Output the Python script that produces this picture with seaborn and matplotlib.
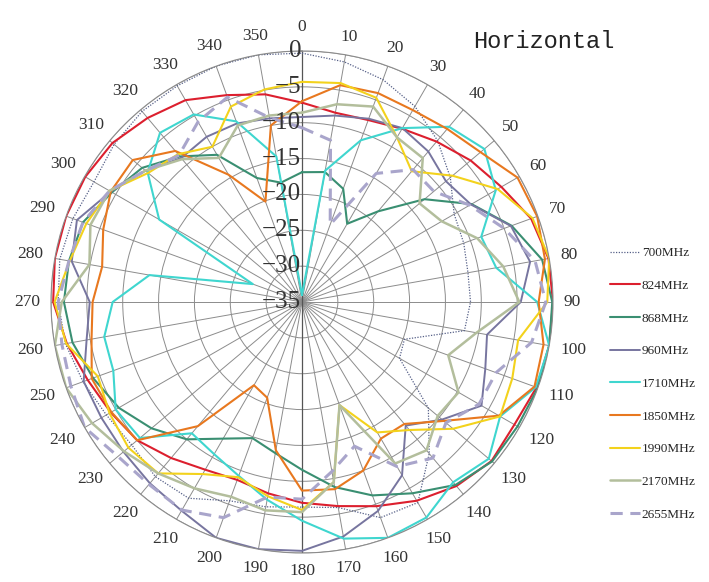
import numpy as np
import pandas as pd
import matplotlib
matplotlib.use("Agg")
import matplotlib.pyplot as plt
import seaborn as sns

# angles in degrees, gains in dB
angles = list(range(0, 360, 10))

g700 = [-0.3, -1.0, -2.0, -3.5, -5.6, -8.0, -10.5, -11.0, -11.5, -11.5,
        -12.0, -19.8, -19.3, -12.0, -7.4, -2.7, -3.0, -5.9, -6.4, -6.0,
        -5.5, -3.4, -3.2, -4.0, -3.5, -2.5, -1.5, -1.0, -0.7, -1.0,
        -1.5, -0.8, -0.3, -0.2, 0.0, 0.0]
g824 = [-7.2, -8.2, -8.0, -7.1, -5.8, -4.3, -2.9, -1.0, -0.1, 0.0,
        0.0, -0.2, -0.8, -0.5, -1.5, -3.0, -4.7, -6.1, -7.0, -7.9,
        -8.6, -8.0, -6.6, -5.0, -4.2, -3.2, -1.7, -0.3, 0.0, 0.0,
        -0.1, -0.5, -1.5, -2.5, -4.3, -5.6]
g868 = [-16.9, -16.6, -18.2, -22.4, -18.5, -12.7, -7.7, -3.9, -1.0, -0.1,
        0.0, 0.0, -0.3, -0.4, -1.7, -4.2, -6.3, -8.8, -11.6, -13.6,
        -14.8, -13.0, -10.0, -7.6, -5.5, -4.0, -2.5, -1.8, -2.0, -2.5,
        -4.4, -5.9, -8.5, -11.3, -16.6, -18.1]
g960 = [-9.2, -8.6, -7.8, -7.0, -7.6, -8.8, -7.8, -4.0, -2.7, -4.5,
        -8.8, -7.8, -6.1, -9.5, -12.5, -7.1, -4.0, -1.8, -0.3, 0.0,
        0.0, -1.4, -2.0, -2.5, -2.7, -2.6, -4.5, -5.4, -2.4, -1.6,
        -4.2, -6.5, -8.8, -8.4, -8.5, -9.0]
g1710 = [-34.0, -16.4, -11.0, -7.0, -3.1, -1.8, -3.8, -8.4, -7.5, -2.2,
         0.0, -0.3, -3.1, -1.0, -2.2, -0.3, 0.0, -1.5, -4.5, -7.0,
         -9.2, -10.5, -11.1, -5.5, -5.0, -7.0, -7.0, -8.6, -13.4, -27.7,
         -12.0, -6.9, -4.2, -4.8, -8.2, -14.4]
g1850 = [-7.0, -4.3, -4.0, -4.1, -3.5, -2.5, -0.3, -0.1, -0.6, -2.0,
         -0.8, -0.5, -3.3, -9.2, -12.8, -13.0, -10.0, -8.5, -8.7, -14.0,
         -20.8, -21.6, -12.4, -5.0, -4.3, -3.8, -5.2, -5.8, -6.7, -5.5,
         -4.2, -4.2, -7.5, -14.5, -20.1, -10.0]
g1990 = [-4.3, -4.0, -4.7, -8.5, -11.2, -7.6, -3.5, -0.8, 0.0, -0.8,
         -4.4, -3.8, -3.1, -7.5, -11.7, -14.0, -19.7, -9.5, -6.0, -7.5,
         -9.0, -7.3, -3.8, -3.4, -4.0, -4.7, -1.6, -0.5, -2.1, -3.0,
         -4.0, -7.0, -8.1, -10.0, -6.0, -4.9]
g2170 = [-8.6, -7.0, -6.0, -8.5, -8.8, -13.6, -12.5, -9.0, -6.5, -4.7,
         -10.3, -13.3, -9.8, -10.3, -8.0, -9.0, -19.7, -9.5, -5.7, -5.5,
         -6.1, -5.0, -3.8, -2.6, -1.2, 0.0, 0.0, -1.5, -4.9, -3.6,
         -4.0, -6.5, -9.0, -11.8, -8.8, -8.6]
g2655 = [-10.7, -12.1, -23.5, -14.3, -10.9, -11.0, -8.0, -5.0, -2.0, -1.0,
         -2.5, -6.2, -6.5, -8.8, -6.6, -8.5, -13.6, -11.0, -7.5, -7.4,
         -3.0, -1.5, -1.8, -1.5, 0.0, -0.7, -1.0, -1.0, -2.0, -2.5,
         -4.0, -6.5, -8.3, -6.0, -4.6, -8.9]

freqs = ["700MHz", "824MHz", "868MHz", "960MHz", "1710MHz",
         "1850MHz", "1990MHz", "2170MHz", "2655MHz"]
gains = [g700, g824, g868, g960, g1710, g1850, g1990, g2170, g2655]

colors = ["#566088", "#dc1f2e", "#3a8f72", "#77759f", "#3fd6cf",
          "#e8781f", "#f3d21c", "#b3be9c", "#a9a5cb"]
styles = [(0, (1, 1.2)), "-", "-", "-", "-", "-", "-", "-", (0, (4, 2.5))]
widths = [0.9, 1.5, 1.5, 1.4, 1.5, 1.5, 1.5, 1.8, 2.2]

rows = []
for f, g in zip(freqs, gains):
    for a, v in zip(angles + [360], g + [g[0]]):
        rows.append({"freq": f, "theta": np.deg2rad(a), "gain": v})
df = pd.DataFrame(rows)

sns.set_style("white")
plt.rcParams["font.family"] = ["Liberation Serif", "DejaVu Serif"]

fig = plt.figure(figsize=(7.09, 5.82), dpi=100)
ax = fig.add_axes([51 / 709, 29 / 582, 502 / 709, 502 / 582], projection="polar")
ax.set_theta_zero_location("N")
ax.set_theta_direction(-1)

for f, c, ls, lw in zip(freqs, colors, styles, widths):
    sns.lineplot(data=df[df["freq"] == f], x="theta", y="gain", color=c,
                 linestyle=ls, linewidth=lw, sort=False, estimator=None,
                 ax=ax, label=f)

ax.set_ylim(-35, 0)
ax.set_yticks(range(-35, 1, 5))
ax.set_yticklabels([])
ax.set_xticks(np.deg2rad(angles))
ax.set_xticklabels([])
ax.set_xlabel("")
ax.set_ylabel("")
ax.grid(True, color="#8c8c8c", linewidth=0.7)
ax.spines["polar"].set_color("#8c8c8c")
ax.spines["polar"].set_linewidth(0.8)
ax.axvline(0, color="#555555", linewidth=0.9, zorder=1)
ax.axvline(np.pi, color="#555555", linewidth=0.9, zorder=1)

# radial labels along the 0 deg line
for v in range(-35, 1, 5):
    txt = str(v).replace("-", "\u2212")
    ax.annotate(txt, xy=(0, v), xytext=(-1, 0), textcoords="offset pixels",
                ha="right", va="center", fontsize=18, color="#333333",
                zorder=5, annotation_clip=False)

# angle labels outside the circle
for a in angles:
    lab = str(a)
    t = np.deg2rad(a)
    hw = 4.5 * len(lab)
    d = 10 + hw * abs(np.sin(t)) + 7 * abs(np.cos(t))
    if a == 0:
        d = 24
    if a == 180:
        d = 18
    ax.annotate(lab, xy=(t, 0), xytext=(d * np.sin(t), d * np.cos(t)),
                textcoords="offset pixels", ha="center", va="center",
                fontsize=12.5, color="#333333", annotation_clip=False)

handles, labels = ax.get_legend_handles_labels()
ax.legend(handles, labels, loc="upper left", bbox_to_anchor=(610 / 709, 1 - 247 / 582),
          bbox_transform=fig.transFigure, frameon=False, fontsize=9.5,
          handlelength=2.3, handletextpad=0.1, labelspacing=1.55,
          borderpad=0, borderaxespad=0)

fig.text(473 / 709, 1 - 42 / 582, "Horizontal", family="Liberation Mono",
         fontsize=17, va="center", ha="left", color="#222222")

fig.savefig("out.png", dpi=100)
